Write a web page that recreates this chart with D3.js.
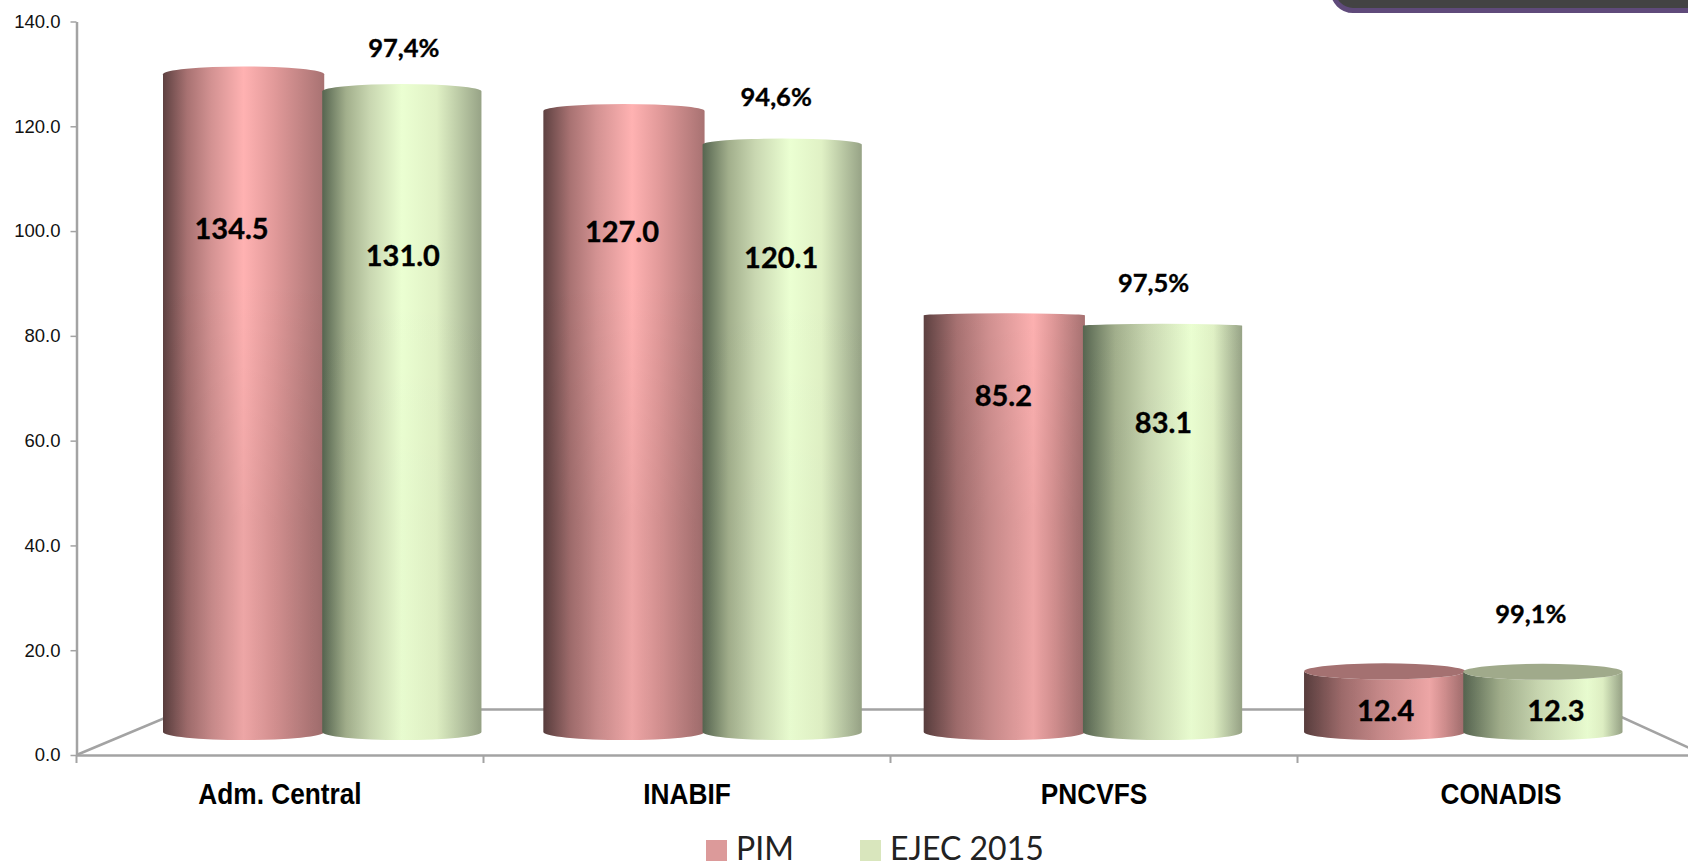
<!DOCTYPE html>
<html><head><meta charset="utf-8">
<style>html,body{margin:0;padding:0;background:#fff;overflow:hidden}svg{display:block}</style>
<script src="https://cdn.jsdelivr.net/npm/d3@7"></script></head><body>
<script>
const categories = ["Adm. Central","INABIF","PNCVFS","CONADIS"];
const seriesNames = ["PIM","EJEC 2015"];
const pim = [134.5,127.0,85.2,12.4];
const ejec = [131.0,120.1,83.1,12.3];
const pct = ["97,4%","94,6%","97,5%","99,1%"];
const yTicks = [0,20,40,60,80,100,120,140];
// label anchors, in chart units on the bar scale
const pimLabelAt = [102.3,101.7,68.1,3.8];
const ejecLabelAt = [96.9,96.5,62.6,3.8];
const pctAt = [139.4,129.3,91.4,23.6];

const W=1688,H=862;
const svg=d3.select("body").append("svg").attr("width",W).attr("height",H);
const defs=svg.append("defs");

const yAxisScale=d3.scaleLinear().domain([0,140]).range([755,21.5]);
const xAxisScale=d3.scaleBand().domain(categories).range([76.5,1704.5]);
const barY=d3.scaleLinear().domain([0,140]).range([732,47.4]);
const barBand=d3.scaleBand().domain(categories).range([163,1622.5]).paddingInner(62/381).paddingOuter(0);
const serX=d3.scaleBand().domain(seriesNames).range([0,barBand.bandwidth()]);

// floor
const base=yAxisScale(0), back=base-45.5;
svg.append("path").attr("fill","none").attr("stroke","#a3a3a3").attr("stroke-width",2.5)
  .attr("d",d3.line()([[xAxisScale.range()[0],base],[185,back],[1605,back],[xAxisScale.range()[1],base]]));

// axes
const yG=svg.append("g").attr("transform","translate(76.5,0)")
  .call(d3.axisLeft(yAxisScale).tickValues(yTicks).tickFormat(d3.format(".1f")).tickSize(6).tickPadding(10).tickSizeOuter(0));
const xG=svg.append("g").attr("transform",`translate(0,${base})`)
  .call(d3.axisBottom(xAxisScale).tickSize(0).tickPadding(0));
xG.selectAll(".tick line").remove();
xG.selectAll(".tick").append("line").attr("stroke","#a3a3a3").attr("stroke-width",2)
  .attr("x1",-xAxisScale.step()/2).attr("x2",-xAxisScale.step()/2).attr("y1",0).attr("y2",8);
svg.selectAll(".domain").attr("stroke","#a3a3a3").attr("stroke-width",2.5);
yG.selectAll(".tick line").attr("stroke","#a3a3a3").attr("stroke-width",1.5);
yG.selectAll("text").attr("font-family","'Liberation Sans',Arial,sans-serif").attr("font-size",18.5).attr("fill","#111");
xG.selectAll("text").attr("font-family","'Liberation Sans',sans-serif").attr("font-weight","bold").attr("font-size",30).attr("fill","#000")
  .attr("dy",0).attr("y",0).attr("transform","translate(0,49) scale(.875,1)");

// cylinder shading
const highlightAt=[.5,.55,.68,.78];
const ramps={
 PIM:[[0,"#5e4141"],[.3,"#a87272"],[.6,"#d39292"],[1,"#ffb2b2"],[1.3,"#e29a9a"],[1.8,"#a87272"]],
 "EJEC 2015":[[0,"#566550"],[.3,"#a2af8c"],[.6,"#c9d7b1"],[1,"#ebffd2"],[1.35,"#e0f1c5"],[1.8,"#97a386"]]
};
function gradId(s,i){return `g${s==="PIM"?"p":"e"}${i}`;}
seriesNames.forEach(s=>categories.forEach((c,i)=>{
  const h=highlightAt[i];
  const g=defs.append("linearGradient").attr("id",gradId(s,i));
  ramps[s].forEach(([t,col])=>{
    const o=t<=1?t*h:h+(t-1)/.8*(1-h);
    g.append("stop").attr("offset",o).attr("stop-color",col);
  });
}));
function shadeDef(id,op){
  const shade=defs.append("linearGradient").attr("id",id).attr("gradientUnits","userSpaceOnUse")
    .attr("x1",0).attr("x2",0).attr("y1",280).attr("y2",520);
  shade.append("stop").attr("offset",0).attr("stop-color","#000").attr("stop-opacity",0);
  shade.append("stop").attr("offset",1).attr("stop-color","#000").attr("stop-opacity",op);
}
shadeDef("shadeP",.07); shadeDef("shadeE",.015);

const eyeLevel=68, botRy=8;
function drawBar(g,cat,i,sName,v){
  const x0=barBand(cat)+serX(sName), w=serX.bandwidth()+(sName==="PIM"?2:0);
  const x1=x0+w, rx=w/2, yT=barY(v), yB=barY(0);
  const above=v>eyeLevel;
  const ry=above?0.118*(v-eyeLevel):8;
  const d=`M${x0},${yT}`+
    (above?`A${rx},${ry} 0 0 1 ${x1},${yT}`:`A${rx},${ry} 0 0 0 ${x1},${yT}`)+
    `L${x1},${yB}A${rx},${botRy} 0 0 1 ${x0},${yB}Z`;
  g.append("path").attr("d",d).attr("fill",`url(#${gradId(sName,i)})`);
  g.append("path").attr("d",d).attr("fill",sName==="PIM"?"url(#shadeP)":"url(#shadeE)");
  if(!above){
    g.append("ellipse").attr("cx",x0+rx).attr("cy",yT).attr("rx",rx).attr("ry",ry)
      .attr("fill",sName==="PIM"?"#a47171":"#a0aa8b");
  }
}
const bars=svg.append("g");
categories.forEach((c,i)=>{
  drawBar(bars,c,i,"PIM",pim[i]);
  drawBar(bars,c,i,"EJEC 2015",ejec[i]);
});

// labels
const lbl=svg.append("g").attr("font-family","Lato,sans-serif").attr("font-weight","bold").attr("font-size",29)
  .attr("fill","#000").attr("stroke","#000").attr("stroke-width",.35).attr("text-anchor","middle").attr("dominant-baseline","middle");
const pimDx=[-11,-1,0,2], ejecDx=[1,-1,1,13], pctDx=[2,-6,-9,-12];
categories.forEach((c,i)=>{
  const cp=barBand(c)+serX("PIM")+serX.bandwidth()/2;
  const ce=barBand(c)+serX("EJEC 2015")+serX.bandwidth()/2;
  lbl.append("text").attr("x",cp+pimDx[i]).attr("y",barY(pimLabelAt[i])).text(d3.format(".1f")(pim[i]));
  lbl.append("text").attr("x",ce+ejecDx[i]).attr("y",barY(ejecLabelAt[i])).text(d3.format(".1f")(ejec[i]));
  lbl.append("text").attr("x",ce+pctDx[i]).attr("y",barY(pctAt[i])).attr("font-size",25.5).text(pct[i]);
});

// legend
const leg=svg.append("g").attr("font-family","Lato,sans-serif").attr("font-size",32).attr("fill","#222");
[[706,736,"#dc9a9a"],[860,890,"#d9e6bd"]].forEach(([sx,tx,col],i)=>{
  leg.append("rect").attr("x",sx).attr("y",840).attr("width",21).attr("height",21).attr("fill",col);
  leg.append("text").attr("x",tx).attr("y",860).text(seriesNames[i]);
});

// cropped panel, top right
svg.append("rect").attr("x",1333).attr("y",-30).attr("width",420).attr("height",40.5).attr("rx",20)
  .attr("fill","#434343").attr("stroke","#5f4a7a").attr("stroke-width",5);
</script></body></html>
